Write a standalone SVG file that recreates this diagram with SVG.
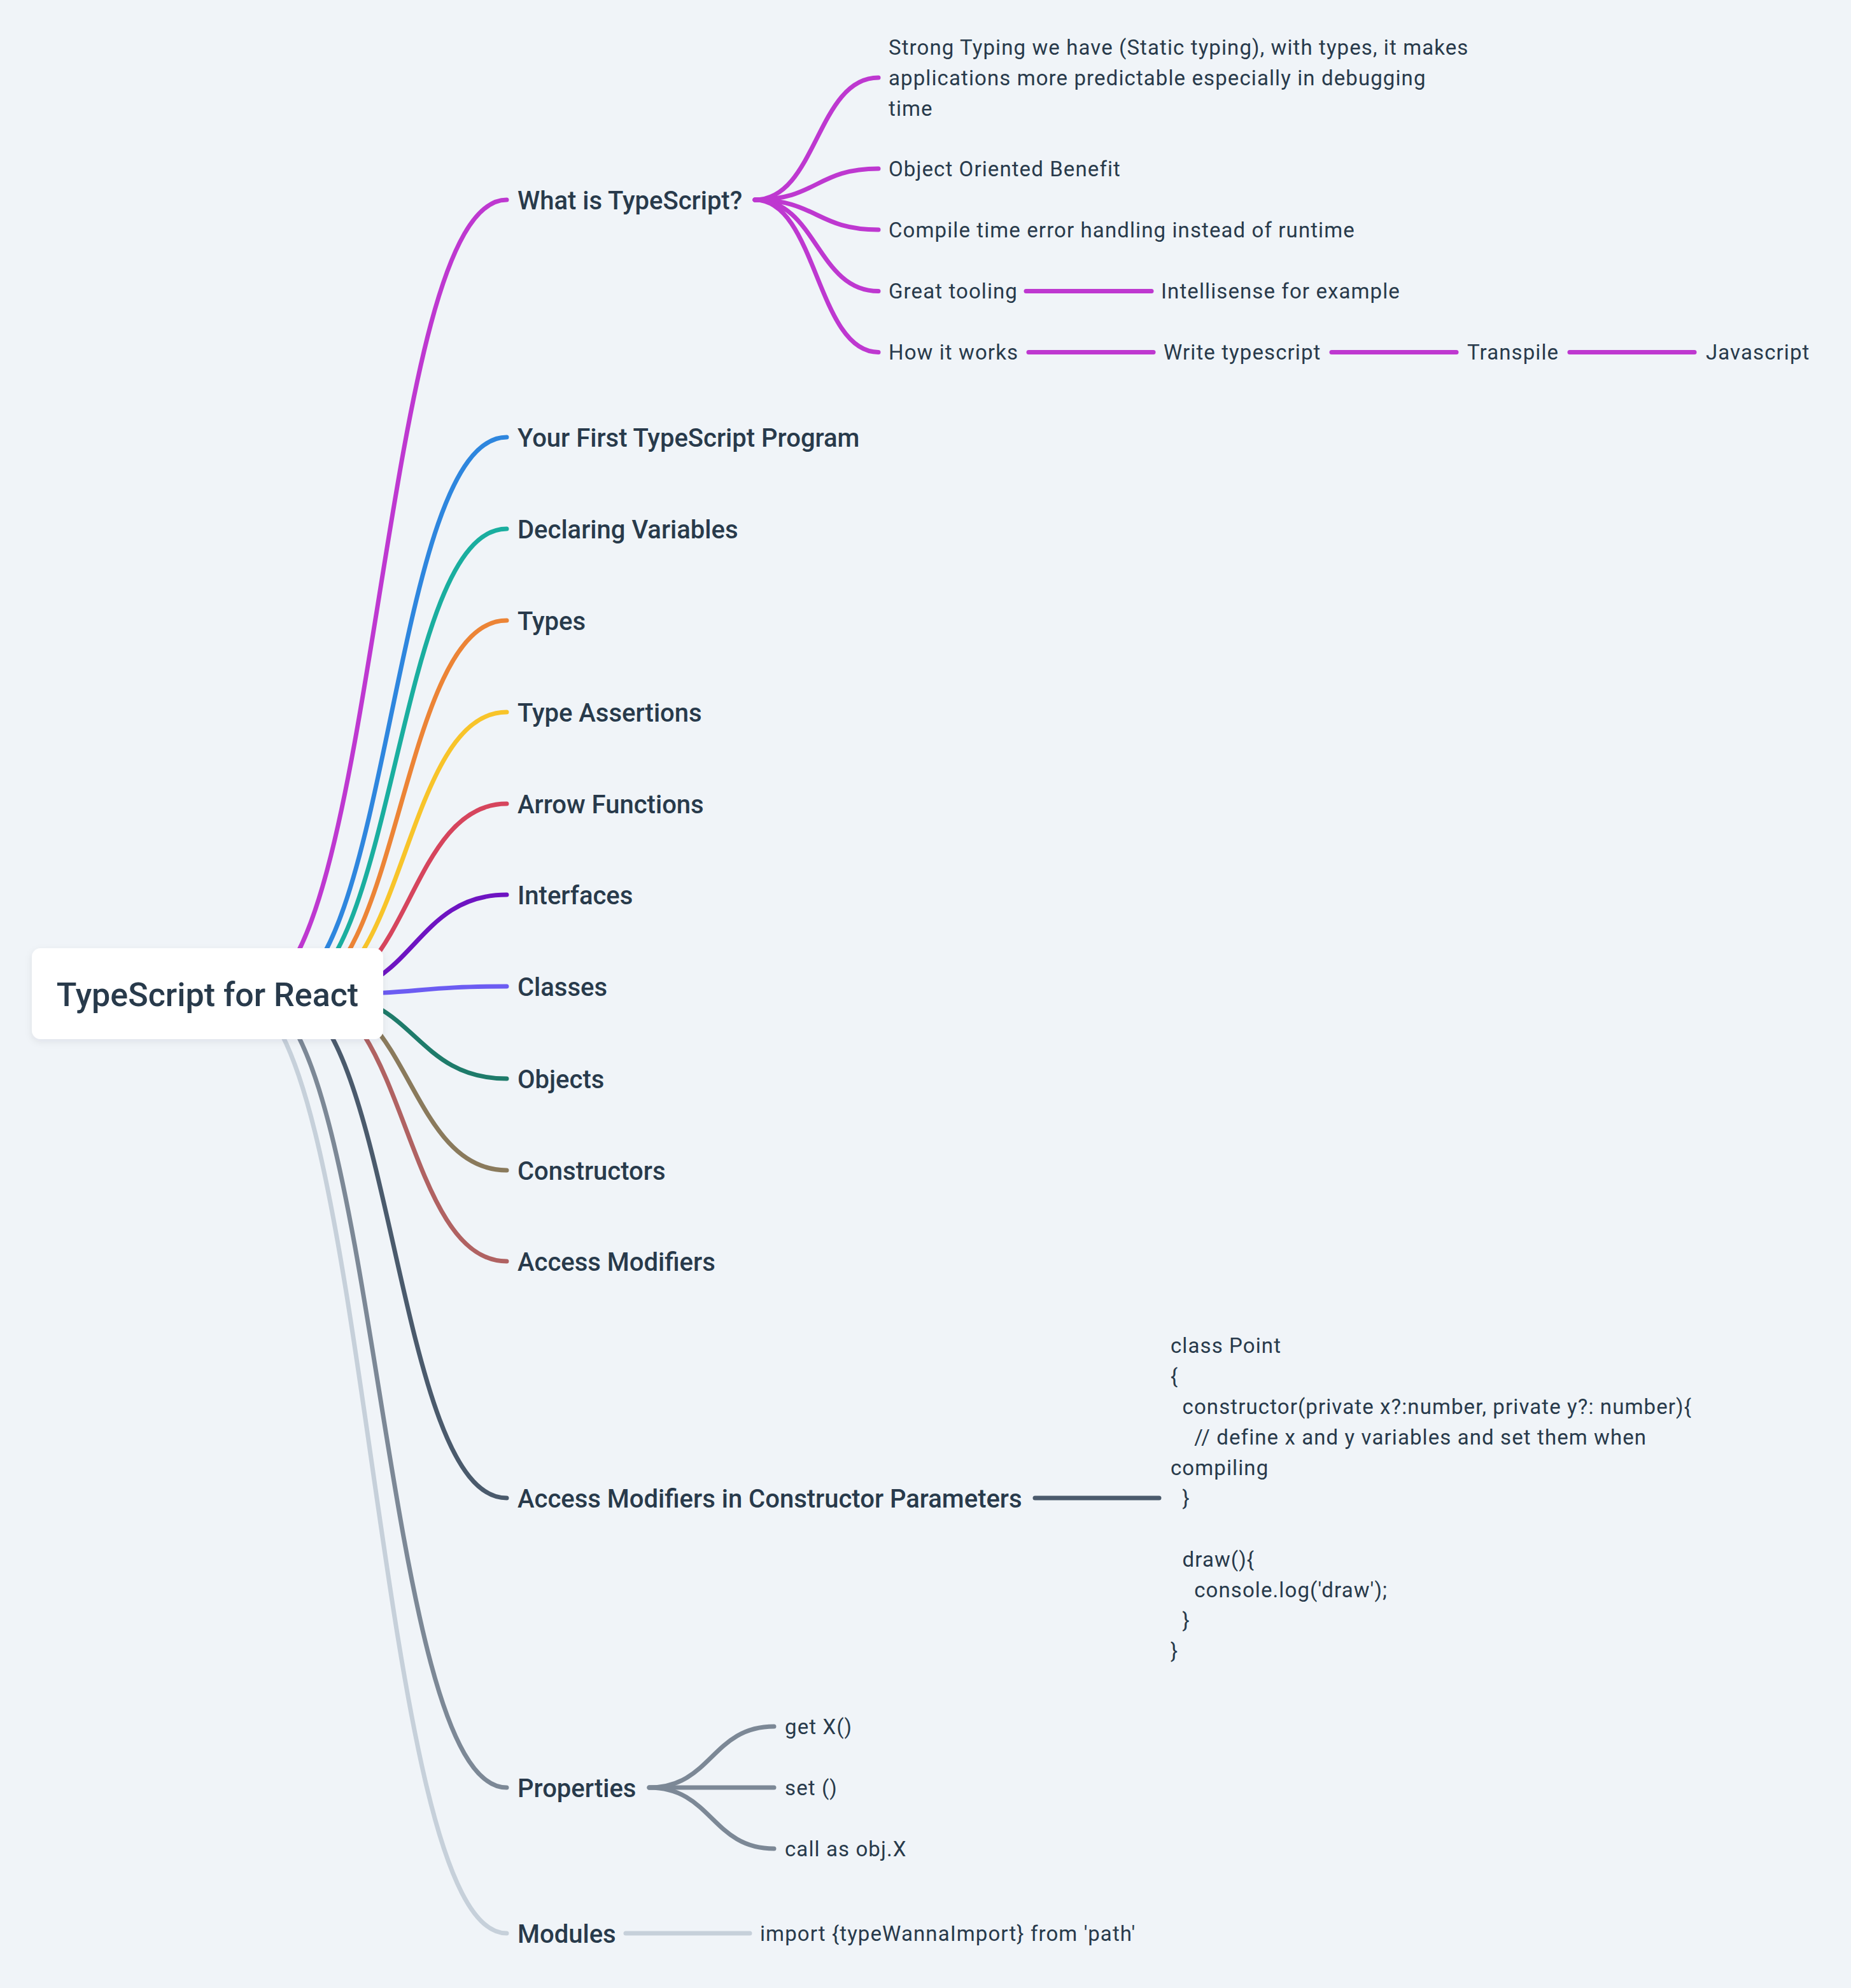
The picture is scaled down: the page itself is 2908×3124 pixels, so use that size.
<svg xmlns="http://www.w3.org/2000/svg" width="2908" height="3124" viewBox="0 0 2908 3124">
<defs>
<filter id="sh" x="-10%" y="-20%" width="120%" height="150%">
<feDropShadow dx="0" dy="4" stdDeviation="6" flood-color="#1d2b3a" flood-opacity="0.08"/>
</filter>
<style>
.c{fill:none;stroke-width:7;stroke-linecap:round}
text{font-family:Roboto,"Liberation Sans",sans-serif;fill:#283a4b}
.r{font-size:52px;font-weight:500}
.l1{font-size:40px;font-weight:500}
.l2{font-size:33px;font-weight:400;letter-spacing:1.1px}
</style>
</defs>
<rect width="2908" height="3124" fill="#f0f4f8"/>
<g id="connectors">
<path class="c" stroke="#be38d0" d="M395 1562 C595.5 1562 595.5 314 796 314"/>
<path class="c" stroke="#2e86de" d="M432.5 1562 C614.3 1562 614.3 687 796 687"/>
<path class="c" stroke="#1aae9f" d="M447 1562 C621.5 1562 621.5 831 796 831"/>
<path class="c" stroke="#ec8436" d="M461 1562 C628.5 1562 628.5 975 796 975"/>
<path class="c" stroke="#f8c42a" d="M475.7 1562 C635.9 1562 635.9 1119 796 1119"/>
<path class="c" stroke="#d6455d" d="M490 1562 C643 1562 643 1263 796 1263"/>
<path class="c" stroke="#6e14c2" d="M504.4 1562 C650.2 1562 650.2 1406 796 1406"/>
<path class="c" stroke="#6c5cf2" d="M518.8 1562 C657.4 1562 657.4 1550 796 1550"/>
<path class="c" stroke="#1e7b6a" d="M506.7 1562 C651.4 1562 651.4 1695 796 1695"/>
<path class="c" stroke="#8a7a5c" d="M490 1562 C643 1562 643 1839 796 1839"/>
<path class="c" stroke="#b06262" d="M478 1562 C637 1562 637 1982 796 1982"/>
<path class="c" stroke="#4a5a6c" d="M440.8 1562 C618.4 1562 618.4 2354 796 2354"/>
<path class="c" stroke="#7c8896" d="M395.3 1562 C595.6 1562 595.6 2809 796 2809"/>
<path class="c" stroke="#c6d0da" d="M372.4 1562 C584.2 1562 584.2 3038 796 3038"/>
<path class="c" stroke="#be38d0" d="M1186 314 C1283 314 1283 122 1380 122"/>
<path class="c" stroke="#be38d0" d="M1186 314 C1283 314 1283 265 1380 265"/>
<path class="c" stroke="#be38d0" d="M1186 314 C1283 314 1283 361 1380 361"/>
<path class="c" stroke="#be38d0" d="M1186 314 C1283 314 1283 457.5 1380 457.5"/>
<path class="c" stroke="#be38d0" d="M1186 314 C1283 314 1283 553.5 1380 553.5"/>
<path class="c" stroke="#be38d0" d="M1612 457.5 H1809"/>
<path class="c" stroke="#be38d0" d="M1616 553.5 H1812"/>
<path class="c" stroke="#be38d0" d="M2092 553.5 H2288"/>
<path class="c" stroke="#be38d0" d="M2466 553.5 H2662"/>
<path class="c" stroke="#4a5a6c" d="M1626 2354 H1821"/>
<path class="c" stroke="#7c8896" d="M1020 2809 C1118 2809 1118 2713 1216 2713"/>
<path class="c" stroke="#7c8896" d="M1020 2809 H1216"/>
<path class="c" stroke="#7c8896" d="M1020 2809 C1118 2809 1118 2905 1216 2905"/>
<path class="c" stroke="#c6d0da" d="M983 3038 H1178"/>
</g>
<g id="root">
<rect x="50" y="1490" width="552" height="143" rx="14" fill="#ffffff" filter="url(#sh)"/>
<text class="r" x="326" y="1581" text-anchor="middle">TypeScript for React</text>
</g>
<g id="n-what"><text class="l1" x="813" y="329">What is TypeScript?</text></g>
<g id="n-first"><text class="l1" x="813" y="702">Your First TypeScript Program</text></g>
<g id="n-declaring"><text class="l1" x="813" y="846">Declaring Variables</text></g>
<g id="n-types"><text class="l1" x="813" y="990">Types</text></g>
<g id="n-assertions"><text class="l1" x="813" y="1134">Type Assertions</text></g>
<g id="n-arrow"><text class="l1" x="813" y="1278">Arrow Functions</text></g>
<g id="n-interfaces"><text class="l1" x="813" y="1421">Interfaces</text></g>
<g id="n-classes"><text class="l1" x="813" y="1565">Classes</text></g>
<g id="n-objects"><text class="l1" x="813" y="1710">Objects</text></g>
<g id="n-constructors"><text class="l1" x="813" y="1854">Constructors</text></g>
<g id="n-access"><text class="l1" x="813" y="1997">Access Modifiers</text></g>
<g id="n-accessctor"><text class="l1" x="813" y="2369">Access Modifiers in Constructor Parameters</text></g>
<g id="n-properties"><text class="l1" x="813" y="2824">Properties</text></g>
<g id="n-modules"><text class="l1" x="813" y="3053">Modules</text></g>
<g id="n-strong"><text class="l2" x="1396" y="86">Strong Typing we have (Static typing), with types, it makes</text><text class="l2" x="1396" y="134">applications more predictable especially in debugging</text><text class="l2" x="1396" y="182">time</text></g>
<g id="n-oo"><text class="l2" x="1396" y="277">Object Oriented Benefit</text></g>
<g id="n-compile"><text class="l2" x="1396" y="372.5">Compile time error handling instead of runtime</text></g>
<g id="n-tooling"><text class="l2" x="1396" y="469">Great tooling</text></g>
<g id="n-intellisense"><text class="l2" x="1824" y="469">Intellisense for example</text></g>
<g id="n-how"><text class="l2" x="1396" y="565">How it works</text></g>
<g id="n-write"><text class="l2" x="1828" y="565">Write typescript</text></g>
<g id="n-transpile"><text class="l2" x="2305" y="565">Transpile</text></g>
<g id="n-javascript"><text class="l2" x="2680" y="565">Javascript</text></g>
<g id="n-code"><text class="l2" xml:space="preserve" style="white-space:pre"><tspan x="1839" y="2126">class Point</tspan><tspan x="1839" y="2174">{</tspan><tspan x="1839" y="2222">  constructor(private x?:number, private y?: number){</tspan><tspan x="1839" y="2270">    // define x and y variables and set them when</tspan><tspan x="1839" y="2318">compiling</tspan><tspan x="1839" y="2366">  }</tspan><tspan x="1839" y="2462">  draw(){</tspan><tspan x="1839" y="2510">    console.log('draw');</tspan><tspan x="1839" y="2558">  }</tspan><tspan x="1839" y="2606">}</tspan></text></g>
<g id="n-getx"><text class="l2" x="1233" y="2724.5">get X()</text></g>
<g id="n-set"><text class="l2" x="1233" y="2820.5">set ()</text></g>
<g id="n-call"><text class="l2" x="1233" y="2916.5">call as obj.X</text></g>
<g id="n-import"><text class="l2" x="1194" y="3049.5">import {typeWannaImport} from 'path'</text></g>
</svg>
